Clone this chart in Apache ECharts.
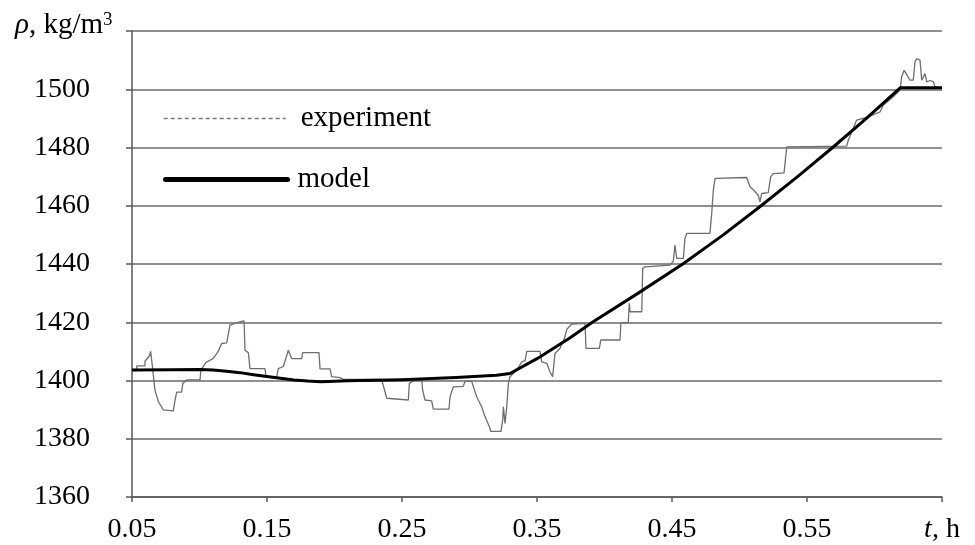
<!DOCTYPE html>
<html>
<head>
<meta charset="utf-8">
<script src="https://cdn.jsdelivr.net/npm/echarts@6/dist/echarts.min.js"></script>
<style>
html,body{margin:0;padding:0;background:#fff;}
#chart{width:975px;height:545px;}
</style>
</head>
<body>
<div id="chart"></div>
<script>
// ---- data ----
var xTickValues = [0.05, 0.15, 0.25, 0.35, 0.45, 0.55, 0.65];
var yTickValues = [1360, 1380, 1400, 1420, 1440, 1460, 1480, 1500, 1520];

var expT = [0.0500,0.0535,0.0535,0.0596,0.0596,0.0630,0.0638,0.0651,0.0670,0.0695,0.0732,0.0806,0.0819,0.0831,0.0868,0.0876,0.0905,0.1004,0.1010,0.1048,0.1102,0.1139,0.1164,0.1201,0.1226,0.1276,0.1288,0.1330,0.1337,0.1362,0.1374,0.1485,0.1493,0.1572,0.1584,0.1621,0.1658,0.1683,0.1757,0.1764,0.1885,0.1893,0.1967,0.1979,0.2041,0.2065,0.2349,0.2387,0.2547,0.2554,0.2596,0.2646,0.2653,0.2670,0.2720,0.2732,0.2848,0.2856,0.2880,0.2954,0.2967,0.3016,0.3028,0.3053,0.3090,0.3115,0.3152,0.3157,0.3233,0.3246,0.3251,0.3263,0.3276,0.3288,0.3300,0.3350,0.3387,0.3412,0.3424,0.3522,0.3535,0.3572,0.3596,0.3616,0.3626,0.3633,0.3670,0.3707,0.3720,0.3757,0.3856,0.3863,0.3962,0.3972,0.4115,0.4122,0.4176,0.4184,0.4189,0.4276,0.4283,0.4300,0.4485,0.4510,0.4522,0.4535,0.4584,0.4596,0.4609,0.4781,0.4794,0.4806,0.4819,0.5053,0.5078,0.5102,0.5139,0.5152,0.5164,0.5213,0.5231,0.5250,0.5330,0.5350,0.5794,0.5806,0.5868,0.5942,0.6041,0.6065,0.6139,0.6189,0.6201,0.6219,0.6239,0.6263,0.6287,0.6300,0.6312,0.6337,0.6350,0.6361,0.6374,0.6387,0.6411,0.6437,0.6448,0.6498];
var expV = [1403.4,1403.4,1405.0,1405.0,1406.6,1408.5,1410.0,1404.9,1396.7,1392.8,1389.9,1389.6,1393.3,1396.0,1396.0,1399.0,1400.2,1400.2,1403.6,1406.2,1407.6,1410.0,1412.7,1412.9,1419.0,1419.9,1420.5,1420.5,1410.4,1409.5,1404.1,1404.1,1401.3,1401.3,1404.1,1404.8,1410.4,1407.5,1407.5,1409.6,1409.6,1404.0,1404.0,1401.3,1401.0,1400.4,1400.4,1393.9,1393.3,1399.0,1400.1,1400.1,1396.7,1393.3,1393.0,1390.2,1390.2,1394.4,1397.8,1398.0,1399.7,1399.7,1398.0,1394.4,1391.0,1387.6,1383.6,1382.5,1382.5,1386.4,1391.0,1385.3,1391.0,1399.0,1401.3,1403.6,1406.4,1406.8,1410.0,1410.0,1406.4,1405.9,1403.0,1401.3,1401.3,1409.3,1411.0,1415.0,1417.5,1419.4,1419.6,1411.0,1411.0,1413.9,1413.9,1419.9,1419.9,1426.5,1423.6,1423.6,1438.5,1439.0,1439.6,1441.0,1446.5,1441.9,1441.9,1448.8,1450.5,1450.5,1457.3,1465.3,1469.4,1469.7,1466.5,1465.5,1463.6,1461.3,1464.2,1464.5,1469.9,1471.0,1471.3,1480.2,1480.5,1482.5,1489.4,1490.3,1492.2,1494.5,1497.4,1499.7,1504.2,1506.5,1505.0,1503.1,1503.1,1509.4,1510.5,1510.0,1503.1,1502.5,1505.4,1502.5,1503.0,1502.5,1500.8,1500.2];

var modelT = [0.05,0.08,0.10,0.11,0.12,0.13,0.14,0.15,0.16,0.17,0.18,0.19,0.20,0.21,0.25,0.29,0.32,0.33,0.35,0.374,0.391,0.425,0.458,0.488,0.516,0.543,0.569,0.594,0.619,0.65];
var modelV = [1403.6,1403.7,1403.8,1403.6,1403.2,1402.7,1402.0,1401.4,1400.8,1400.2,1399.8,1399.6,1399.7,1399.9,1400.3,1401.0,1401.8,1402.4,1407.5,1414.5,1420.0,1430.0,1440.0,1450.0,1460.0,1470.0,1480.0,1490.0,1500.5,1500.5];

var seriesNames = ['experiment', 'model'];
var yAxisName = 'ρ, kg/m3';

// ---- build ----
var X0 = xTickValues[0];
function pairs(ts, vs) {
  var out = [];
  for (var i = 0; i < ts.length; i++) out.push([+(ts[i] - X0).toFixed(6), vs[i]]);
  return out;
}
var serif = '"Liberation Serif", "Times New Roman", serif';
var axisColor = '#5a5a5a';

var chart = echarts.init(document.getElementById('chart'), null, {renderer: 'canvas'});
chart.setOption({
  animation: false,
  backgroundColor: '#fff',
  title: {
    text: '{i|ρ}, kg/m{s|3}',
    left: 10, top: 6,
    textStyle: {
      fontFamily: serif, fontSize: 29, fontWeight: 'normal', color: '#000',
      rich: {
        i: {fontFamily: serif, fontSize: 29, fontStyle: 'italic', color: '#000'},
        s: {fontFamily: serif, fontSize: 19, color: '#000', verticalAlign: 'top'}
      }
    }
  },
  grid: {left: 132, right: 33, top: 31, bottom: 48},
  legend: [
    {
      data: [{name: seriesNames[0], itemStyle: {opacity: 0},
              lineStyle: {type: [4, 3], width: 1.4, color: '#777'}}],
      left: 163, top: 104, padding: 0, itemWidth: 122, itemHeight: 14, itemGap: 0,
      selectedMode: false,
      textStyle: {fontFamily: serif, fontSize: 29, color: '#000', padding: [0, 0, 0, 10]}
    },
    {
      data: [{name: seriesNames[1], itemStyle: {opacity: 0},
              lineStyle: {width: 5, color: '#000', cap: 'round'}}],
      left: 163, top: 165, padding: 0, itemWidth: 122, itemHeight: 14, itemGap: 0,
      selectedMode: false,
      textStyle: {fontFamily: serif, fontSize: 29, color: '#000', padding: [0, 0, 0, 5]}
    }
  ],
  xAxis: {
    type: 'value',
    min: 0, max: +(xTickValues[xTickValues.length - 1] - X0).toFixed(6), interval: 0.1,
    axisLine: {show: true, onZero: false, lineStyle: {color: axisColor, width: 1.5}},
    axisTick: {show: true, length: 5, lineStyle: {color: axisColor, width: 1.5}},
    splitLine: {show: false},
    axisLabel: {
      margin: 19, color: '#000', fontFamily: serif, fontSize: 28,
      formatter: function (v) {
        var t = +(v + X0).toFixed(2);
        if (Math.abs(t - xTickValues[xTickValues.length - 1]) < 1e-6) return '{it|t}, h';
        return t.toFixed(2);
      },
      rich: {it: {fontFamily: serif, fontSize: 28, fontStyle: 'italic', color: '#000'}}
    }
  },
  yAxis: {
    type: 'value',
    min: yTickValues[0], max: yTickValues[yTickValues.length - 1], interval: 20,
    axisLine: {show: true, lineStyle: {color: axisColor, width: 1.5}},
    axisTick: {show: true, length: 6, lineStyle: {color: axisColor, width: 1.5}},
    splitLine: {show: true, lineStyle: {color: '#6a6a6a', width: 1.6}},
    axisLabel: {
      margin: 42, color: '#000', fontFamily: serif, fontSize: 28,
      formatter: function (v) { return v === yTickValues[yTickValues.length - 1] ? '' : String(v); }
    }
  },
  series: [
    {
      name: seriesNames[0], type: 'line', data: pairs(expT, expV),
      symbol: 'none', showSymbol: false, z: 2,
      lineStyle: {color: '#6e6e6e', width: 1.3}
    },
    {
      name: seriesNames[1], type: 'line', data: pairs(modelT, modelV),
      symbol: 'none', showSymbol: false, smooth: false, z: 3,
      lineStyle: {color: '#000', width: 3, join: 'round'}
    }
  ]
});
</script>
</body>
</html>
